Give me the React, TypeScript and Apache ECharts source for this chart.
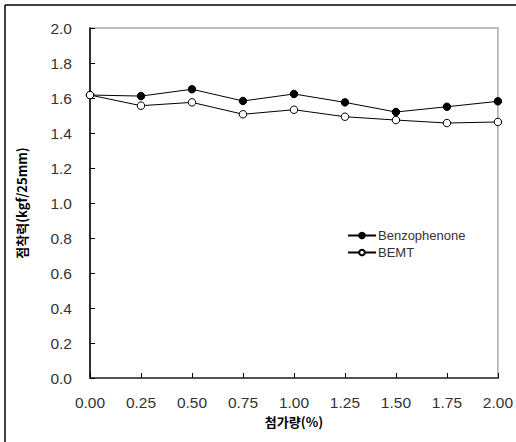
import React, { useEffect, useRef } from "react";
import * as echarts from "echarts";

const xValues = [0, 0.25, 0.5, 0.75, 1.0, 1.25, 1.5, 1.75, 2.0];
const benzophenone = [1.617, 1.611, 1.65, 1.583, 1.623, 1.575, 1.52, 1.55, 1.581];
const bemt = [1.617, 1.556, 1.575, 1.507, 1.533, 1.493, 1.474, 1.457, 1.463];
const seriesNames = ["Benzophenone", "BEMT"];
const yTitle = "점착력(kgf/25mm)";
const xTitle = "첨가량(%)";

export default function App() {
  const ref = useRef<HTMLDivElement>(null);
  useEffect(() => {
    if (!ref.current) return;
    const chart = echarts.init(ref.current, null, { renderer: "svg" });
    const labelFont = {
      fontFamily: "Liberation Sans, Arial, sans-serif",
      fontSize: 15.5,
      color: "#333",
    };
    chart.setOption({
      animation: false,
      backgroundColor: "#fff",
      grid: {
        left: 90,
        right: 17.5,
        top: 28,
        bottom: 64,
        show: true,
        borderColor: "#aaa",
        borderWidth: 1.5,
      },
      legend: {
        orient: "vertical",
        left: 342,
        top: 224,
        itemWidth: 28,
        itemHeight: 7,
        itemGap: 4,
        textStyle: {
          fontFamily: "Liberation Sans, Arial, sans-serif",
          fontSize: 13,
          color: "#333",
          padding: [0, 0, 0, -3],
        },
        data: seriesNames,
      },
      xAxis: {
        type: "value",
        min: 0,
        max: 2,
        interval: 0.25,
        name: xTitle,
        nameLocation: "middle",
        nameGap: 37,
        nameTextStyle: {
          fontFamily: "Noto Sans CJK KR",
          fontWeight: "bold",
          fontSize: 13,
          color: "#000",
        },
        axisLine: { lineStyle: { color: "#555", width: 2 } },
        axisTick: { inside: true, length: 5, lineStyle: { color: "#000" } },
        axisLabel: {
          ...labelFont,
          margin: 16,
          formatter: (v: number) => v.toFixed(2),
        },
        splitLine: { show: false },
      },
      yAxis: {
        type: "value",
        min: 0,
        max: 2,
        interval: 0.2,
        name: yTitle,
        nameLocation: "middle",
        nameGap: 62,
        nameTextStyle: {
          fontFamily: "Noto Sans CJK KR",
          fontWeight: "bold",
          fontSize: 13,
          color: "#000",
        },
        axisLine: { lineStyle: { color: "#000", width: 1.5 } },
        axisTick: { inside: true, length: 5, lineStyle: { color: "#000" } },
        axisLabel: {
          ...labelFont,
          margin: 18,
          formatter: (v: number) => v.toFixed(1),
        },
        splitLine: { show: false },
      },
      graphic: [
        { type: "line", shape: { x1: 5, y1: 5, x2: 516, y2: 5 }, style: { stroke: "#000", lineWidth: 1.5 } },
        { type: "line", shape: { x1: 5, y1: 5, x2: 5, y2: 442 }, style: { stroke: "#000", lineWidth: 1.5 } },
      ],
      series: [
        {
          name: seriesNames[0],
          type: "line",
          data: xValues.map((x, i) => [x, benzophenone[i]]),
          symbol: "circle",
          symbolSize: 7.5,
          lineStyle: { color: "#000", width: 1 },
          itemStyle: { color: "#000", borderColor: "#000", borderWidth: 1 },
        },
        {
          name: seriesNames[1],
          type: "line",
          data: xValues.map((x, i) => [x, bemt[i]]),
          symbol: "circle",
          symbolSize: 7.5,
          lineStyle: { color: "#000", width: 1 },
          itemStyle: { color: "#fff", borderColor: "#000", borderWidth: 1 },
        },
      ],
    });
    return () => chart.dispose();
  }, []);
  return (
    <div
      ref={ref}
      style={{ position: "fixed", left: 0, top: 0, width: 516, height: 442 }}
    />
  );
}
